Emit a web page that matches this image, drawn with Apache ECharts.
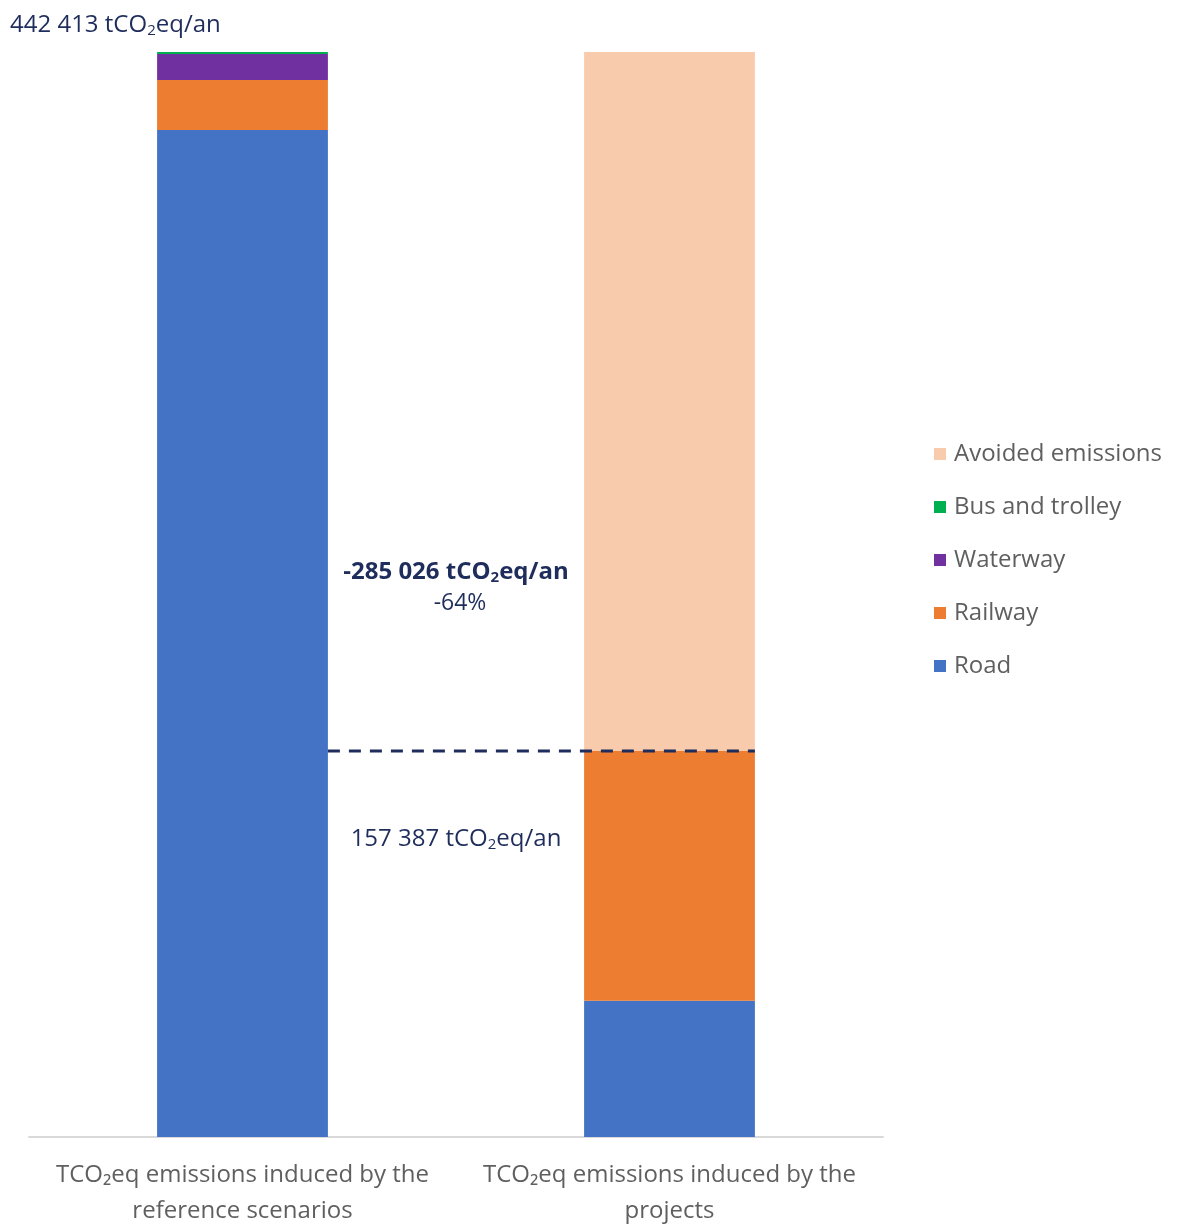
<!DOCTYPE html>
<html>
<head>
<meta charset="utf-8">
<script src="https://cdn.jsdelivr.net/npm/echarts@6/dist/echarts.min.js"></script>
<style>html,body{margin:0;padding:0;background:#fff}#c{width:1179px;height:1227px}</style>
</head>
<body>
<div id="c"></div>
<script>
var categories = ['TCO₂eq emissions induced by the\nreference scenarios', 'TCO₂eq emissions induced by the\nprojects'];
var road = [410600, 55600];
var railway = [20400, 101787];
var waterway = [10600, 0];
var bus = [813, 0];
var avoided = [0, 285026];
var totalRef = 442413;
var totalProj = 157387;
var avoidedLabel = '-285 026';
var pctLabel = '-64%';
var legendOrder = ['Avoided emissions', 'Bus and trolley', 'Waterway', 'Railway', 'Road'];

function fmt(n){ return String(n).replace(/\B(?=(\d{3})+(?!\d))/g, ' '); }

var chart = echarts.init(document.getElementById('c'));
var navy = '#1f2d5c';
var FONT = '"Open Sans", "Noto Sans", sans-serif';
var rich = {
  a: {fontSize: 24, fill: navy, fontFamily: FONT},
  s: {fontSize: 15, fill: navy, fontFamily: FONT, padding: [11, 0, 0, 0]},
  b: {fontSize: 24, fill: navy, fontFamily: FONT, fontWeight: 'bold'},
  bs: {fontSize: 15, fill: navy, fontFamily: FONT, fontWeight: 'bold', padding: [11, 0, 0, 0]}
};
function co2(num, bold){
  var a = bold ? 'b' : 'a', s = bold ? 'bs' : 's';
  return '{' + a + '|' + num + ' tCO}{' + s + '|2}{' + a + '|eq/an}';
}

var barW = '40%';
var option = {
  animation: false,
  backgroundColor: '#fff',
  grid: {left: 29, right: 296, top: 52, bottom: 90, containLabel: false, outerBoundsMode: 'none'},
  legend: {
    orient: 'vertical', left: 929, top: 437, itemGap: 29,
    itemWidth: 12, itemHeight: 12, icon: 'rect',
    data: legendOrder,
    textStyle: {fontSize: 24, color: '#5f5f5f', fontFamily: FONT, padding: [0, 0, 0, 3]}
  },
  xAxis: [{
    type: 'category', data: categories,
    axisLine: {lineStyle: {color: '#d9d9d9', width: 2}},
    axisTick: {show: false},
    axisLabel: {fontSize: 24, color: '#5f5f5f', lineHeight: 36, margin: 20, fontFamily: FONT, interval: 0}
  }, {
    type: 'value', min: 0, max: 2, show: false
  }],
  yAxis: {type: 'value', min: 0, max: totalRef, show: false, splitLine: {show: false}},
  series: [
    {name: 'Road', type: 'bar', stack: 't', barWidth: barW, data: road, itemStyle: {color: '#4472c4'}},
    {name: 'Railway', type: 'bar', stack: 't', barWidth: barW, data: railway, itemStyle: {color: '#ed7d31'}},
    {name: 'Waterway', type: 'bar', stack: 't', barWidth: barW, data: waterway, itemStyle: {color: '#7030a0'}},
    {name: 'Bus and trolley', type: 'bar', stack: 't', barWidth: barW, data: bus, itemStyle: {color: '#00b050'}},
    {name: 'Avoided emissions', type: 'bar', stack: 't', barWidth: barW, data: avoided, itemStyle: {color: '#f8cbad'}},
    {
      name: 'dash', type: 'line', xAxisIndex: 1, symbol: 'none', silent: true,
      data: [[0.7, totalProj], [1.7, totalProj]],
      lineStyle: {color: navy, width: 3, type: [12, 9]}, z: 10
    }
  ],
  graphic: [
    {type: 'text', x: 10, y: 25, style: {text: co2(fmt(totalRef), false), rich: rich, align: 'left', verticalAlign: 'middle'}},
    {type: 'text', x: 456, y: 572, style: {text: co2(avoidedLabel, true), rich: rich, align: 'center', verticalAlign: 'middle'}},
    {type: 'text', x: 460, y: 603, style: {text: pctLabel, font: '23px ' + FONT, fill: navy, align: 'center', verticalAlign: 'middle'}},
    {type: 'text', x: 456, y: 839, style: {text: co2(fmt(totalProj), false), rich: rich, align: 'center', verticalAlign: 'middle'}}
  ]
};
chart.setOption(option);
</script>
</body>
</html>
